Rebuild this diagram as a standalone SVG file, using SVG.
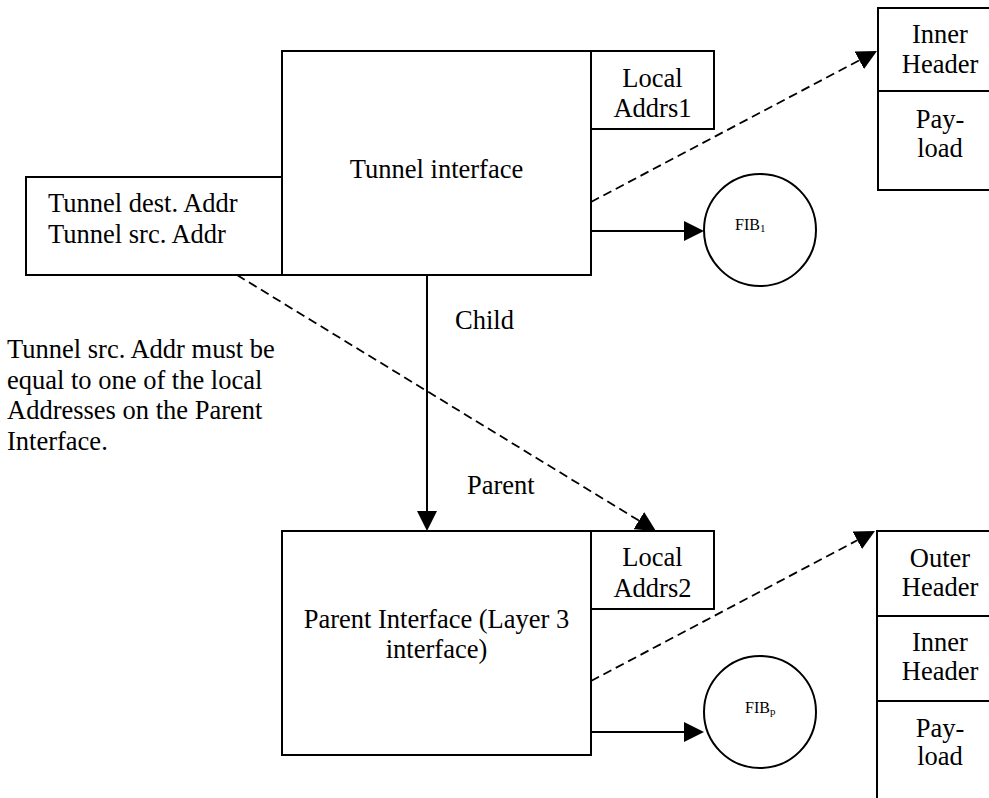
<svg xmlns="http://www.w3.org/2000/svg" width="989" height="798" viewBox="0 0 989 798" font-family="'Liberation Serif', 'DejaVu Serif', serif">
<style>
.box{fill:#fff;stroke:#000;stroke-width:2}
.ln{fill:none;stroke:#000;stroke-width:2}
.dash{fill:none;stroke:#000;stroke-width:1.8;stroke-dasharray:9,5}
text{font-family:'Liberation Serif','DejaVu Serif',serif;font-size:26.5px;fill:#000}
.c{text-anchor:middle}
.sm{font-size:16px}
.sub{font-size:11px}
</style>
<defs>
<marker id="ah" markerUnits="userSpaceOnUse" markerWidth="20" markerHeight="20" refX="0" refY="10" orient="auto">
<path d="M0,0 L20,10 L0,20 z" fill="#000"/>
</marker>
</defs>
<rect width="989" height="798" fill="#fff"/>
<g id="tunnel-interface">
<rect class="box" x="282" y="51" width="309" height="224"/>
<text class="c" x="436.5" y="178">Tunnel interface</text>
</g>
<g id="tunnel-addrs">
<rect class="box" x="26" y="177" width="256" height="98"/>
<text x="48" y="212">Tunnel dest. Addr</text>
<text x="48" y="243">Tunnel src. Addr</text>
</g>
<g id="local-addrs1">
<rect class="box" x="591" y="51" width="123" height="78"/>
<text class="c" x="652.5" y="87">Local</text>
<text class="c" x="652.5" y="117">Addrs1</text>
</g>
<g id="packet-inner">
<rect class="box" x="878" y="8" width="126" height="182"/>
<line class="ln" x1="878" y1="91" x2="1004" y2="91"/>
<text class="c" x="940" y="43">Inner</text>
<text class="c" x="940" y="73">Header</text>
<text class="c" x="940" y="128">Pay-</text>
<text class="c" x="940" y="157">load</text>
</g>
<g id="fib1">
<circle class="box" cx="760" cy="230" r="56"/>
<text class="sm" x="735" y="230">FIB<tspan class="sub" dy="2">1</tspan></text>
</g>
<g id="note">
<text x="7" y="358">Tunnel src. Addr must be</text>
<text x="7" y="388.5">equal to one of the local</text>
<text x="7" y="419">Addresses on the Parent</text>
<text x="7" y="449.5">Interface.</text>
</g>
<g id="parent-interface">
<rect class="box" x="282" y="531" width="309" height="224"/>
<text class="c" x="436.5" y="628">Parent Interface (Layer 3</text>
<text class="c" x="436.5" y="658">interface)</text>
</g>
<g id="local-addrs2">
<rect class="box" x="591" y="531" width="123" height="78"/>
<text class="c" x="652.5" y="566">Local</text>
<text class="c" x="652.5" y="596.5">Addrs2</text>
</g>
<g id="packet-outer">
<rect class="box" x="877" y="531" width="126" height="290"/>
<line class="ln" x1="877" y1="616" x2="1003" y2="616"/>
<line class="ln" x1="877" y1="701" x2="1003" y2="701"/>
<text class="c" x="940" y="566.5">Outer</text>
<text class="c" x="940" y="596">Header</text>
<text class="c" x="940" y="651">Inner</text>
<text class="c" x="940" y="680">Header</text>
<text class="c" x="940" y="737">Pay-</text>
<text class="c" x="940" y="765">load</text>
</g>
<g id="fibp">
<circle class="box" cx="760" cy="712" r="56"/>
<text class="sm" x="745" y="713">FIB<tspan class="sub" dy="2">p</tspan></text>
</g>
<g id="connectors">
<line class="ln" x1="427" y1="275" x2="427" y2="511" marker-end="url(#ah)"/>
<line class="ln" x1="591" y1="231" x2="684" y2="231" marker-end="url(#ah)"/>
<line class="ln" x1="591" y1="732" x2="684" y2="732" marker-end="url(#ah)"/>
<line class="dash" x1="591" y1="202" x2="859.3" y2="60.3" marker-end="url(#ah)"/>
<line class="dash" x1="591" y1="681" x2="857.3" y2="540.3" marker-end="url(#ah)"/>
<line class="dash" x1="237" y1="275" x2="638.9" y2="520.6" marker-end="url(#ah)"/>
<text x="455" y="329">Child</text>
<text x="467" y="494">Parent</text>
</g>
</svg>
